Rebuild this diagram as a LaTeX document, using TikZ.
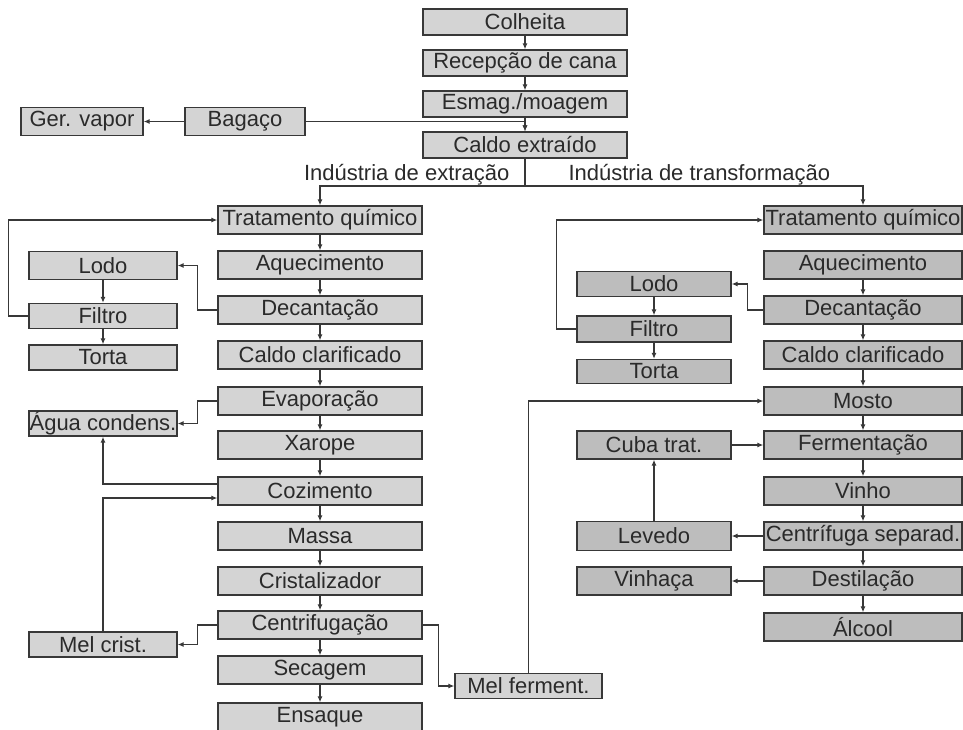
\documentclass[tikz,border=0pt]{standalone}
\usepackage{fontspec}
\setmainfont{Liberation Sans}
\usetikzlibrary{arrows.meta}
\definecolor{lightbox}{HTML}{D4D4D4}
\definecolor{darkbox}{HTML}{BDBDBD}
\definecolor{edge}{HTML}{383838}
\definecolor{ink}{HTML}{2A2A2A}
\begin{document}
\begin{tikzpicture}[x=1pt,y=-1pt,
  every node/.style={font=\fontsize{22}{24}\selectfont, text=ink},
  boxbase/.style={draw=edge, line width=1.3pt, rectangle, inner sep=0pt, anchor=center},
  lbox/.style={boxbase, fill=lightbox},
  dbox/.style={boxbase, fill=darkbox},
  topw/.style={minimum width=204pt, minimum height=26pt},
  colw/.style={minimum width=204pt, minimum height=28pt},
  rcolw/.style={minimum width=198pt, minimum height=28pt},
  sidew/.style={minimum width=148pt, minimum height=26pt},
  rsidew/.style={minimum width=154pt, minimum height=26pt},
  conn/.style={draw=edge, line width=1.3pt},
  arr/.style={conn, -{Latex[length=6pt,width=5pt]}}
]
\useasboundingbox (0,0) rectangle (963,729);
\fill[white] (0,0) rectangle (963,729);

% top column
\node[lbox,topw] (colheita) at (525,22) {Colheita};
\node[lbox,topw] (recepcao) at (525,63) {Recepção de cana};
\node[lbox,topw] (esmag) at (525,104) {Esmag./moagem};
\node[lbox,topw] (caldo) at (525,145) {Caldo extraído};
\node[lbox,minimum width=120pt,minimum height=28pt] (bagaco) at (245,121.5) {Bagaço};
\node[lbox,minimum width=122pt,minimum height=28pt] (gervapor) at (82,121.5) {Ger. vapor};

% left column
\node[lbox,colw] (ltrat) at (320,220) {Tratamento químico};
\node[lbox,colw] (laquec) at (320,265) {Aquecimento};
\node[lbox,colw] (ldecant) at (320,310) {Decantação};
\node[lbox,colw] (lclar) at (320,355) {Caldo clarificado};
\node[lbox,colw] (evap) at (320,401) {Evaporação};
\node[lbox,colw] (xarope) at (320,445) {Xarope};
\node[lbox,colw] (cozim) at (320,491) {Cozimento};
\node[lbox,colw] (massa) at (320,536) {Massa};
\node[lbox,colw] (cristal) at (320,581) {Cristalizador};
\node[lbox,colw] (centrif) at (320,625) {Centrifugação};
\node[lbox,colw] (secagem) at (320,670) {Secagem};
\node[lbox,colw] (ensaque) at (320,717) {Ensaque};

% left side
\node[lbox,sidew,minimum height=28pt] (llodo) at (103,265.5) {Lodo};
\node[lbox,sidew,minimum height=25pt] (lfiltro) at (103,316) {Filtro};
\node[lbox,sidew,minimum height=25pt] (ltorta) at (103,357.5) {Torta};
\node[lbox,sidew,minimum height=25pt] (agua) at (103,423.5) {Água condens.};
\node[lbox,sidew,minimum height=25pt] (melc) at (103,644.5) {Mel crist.};
\node[lbox,minimum width=147pt,minimum height=25pt] (melf) at (528.5,686) {Mel ferment.};

% right column
\node[dbox,rcolw] (rtrat) at (863,220) {Tratamento químico};
\node[dbox,rcolw] (raquec) at (863,265) {Aquecimento};
\node[dbox,rcolw] (rdecant) at (863,310) {Decantação};
\node[dbox,rcolw] (rclar) at (863,355) {Caldo clarificado};
\node[dbox,rcolw] (mosto) at (863,401) {Mosto};
\node[dbox,rcolw] (ferm) at (863,445) {Fermentação};
\node[dbox,rcolw] (vinho) at (863,491) {Vinho};
\node[dbox,rcolw] (csep) at (863,536) {Centrífuga separad.};
\node[dbox,rcolw] (destil) at (863,581) {Destilação};
\node[dbox,rcolw] (alcool) at (863,627) {Álcool};

% right side
\node[dbox,rsidew,minimum height=25pt] (rlodo) at (654,284) {Lodo};
\node[dbox,rsidew,minimum height=26pt] (rfiltro) at (654,329) {Filtro};
\node[dbox,rsidew,minimum height=24pt] (rtorta) at (654,371.5) {Torta};
\node[dbox,rsidew,minimum height=28pt] (cuba) at (654,445) {Cuba trat.};
\node[dbox,rsidew,minimum height=29pt] (levedo) at (654,536) {Levedo};
\node[dbox,rsidew,minimum height=28pt] (vinhaca) at (654,581) {Vinhaça};

% labels
\coordinate (split) at (525,186);
\node[anchor=east] (lblext) at (513,175) {Indústria de extração};
\node[anchor=west] (lbltra) at (565,175) {Indústria de transformação};

% top connectors
\draw[arr] (colheita) -- (recepcao);
\draw[arr] (recepcao) -- (esmag);
\draw[arr] (esmag) -- (caldo);
\draw[arr] (bagaco.east) -| (caldo.north);
\draw[arr] (bagaco.west) -- (gervapor.east);
\draw[conn] (caldo.south) -- (split);
\draw[arr] (split) -| (ltrat.north);
\draw[arr] (split) -| (rtrat.north);

% left column connectors
\draw[arr] (ltrat) -- (laquec);
\draw[arr] (laquec) -- (ldecant);
\draw[arr] (ldecant) -- (lclar);
\draw[arr] (lclar) -- (evap);
\draw[arr] (evap) -- (xarope);
\draw[arr] (xarope) -- (cozim);
\draw[arr] (cozim) -- (massa);
\draw[arr] (massa) -- (cristal);
\draw[arr] (cristal) -- (centrif);
\draw[arr] (centrif) -- (secagem);
\draw[arr] (secagem) -- (ensaque);

% left side connectors
\draw[arr] (ldecant.west) -- ++(-20,0) |- (llodo.east);
\draw[arr] (llodo) -- (lfiltro);
\draw[arr] (lfiltro) -- (ltorta);
\draw[arr] (lfiltro.west) -- ++(-20,0) |- (ltrat.west);
\draw[arr] (evap.west) -- ++(-20,0) |- (agua.east);
\draw[arr] ([yshift=7pt]cozim.west) -| (agua.south);
\draw[arr] (melc.north) |- ([yshift=-7pt]cozim.west);
\draw[arr] (centrif.west) -- ++(-20,0) |- (melc.east);
\draw[arr] (centrif.east) -- ++(16,0) |- (melf.west);
\draw[arr] (melf.north) |- (mosto.west);

% right column connectors
\draw[arr] (raquec) -- (rdecant);
\draw[arr] (rdecant) -- (rclar);
\draw[arr] (rclar) -- (mosto);
\draw[arr] (mosto) -- (ferm);
\draw[arr] (ferm) -- (vinho);
\draw[arr] (vinho) -- (csep);
\draw[arr] (csep) -- (destil);
\draw[arr] (destil) -- (alcool);

% right side connectors
\draw[arr] (rdecant.west) -- ++(-16,0) |- (rlodo.east);
\draw[arr] (rlodo) -- (rfiltro);
\draw[arr] (rfiltro) -- (rtorta);
\draw[arr] (rfiltro.west) -- ++(-20,0) |- (rtrat.west);
\draw[arr] (cuba.east) -- (ferm.west);
\draw[arr] (levedo.north) -- (cuba.south);
\draw[arr] (csep.west) -- (levedo.east);
\draw[arr] (destil.west) -- (vinhaca.east);
\end{tikzpicture}
\end{document}
